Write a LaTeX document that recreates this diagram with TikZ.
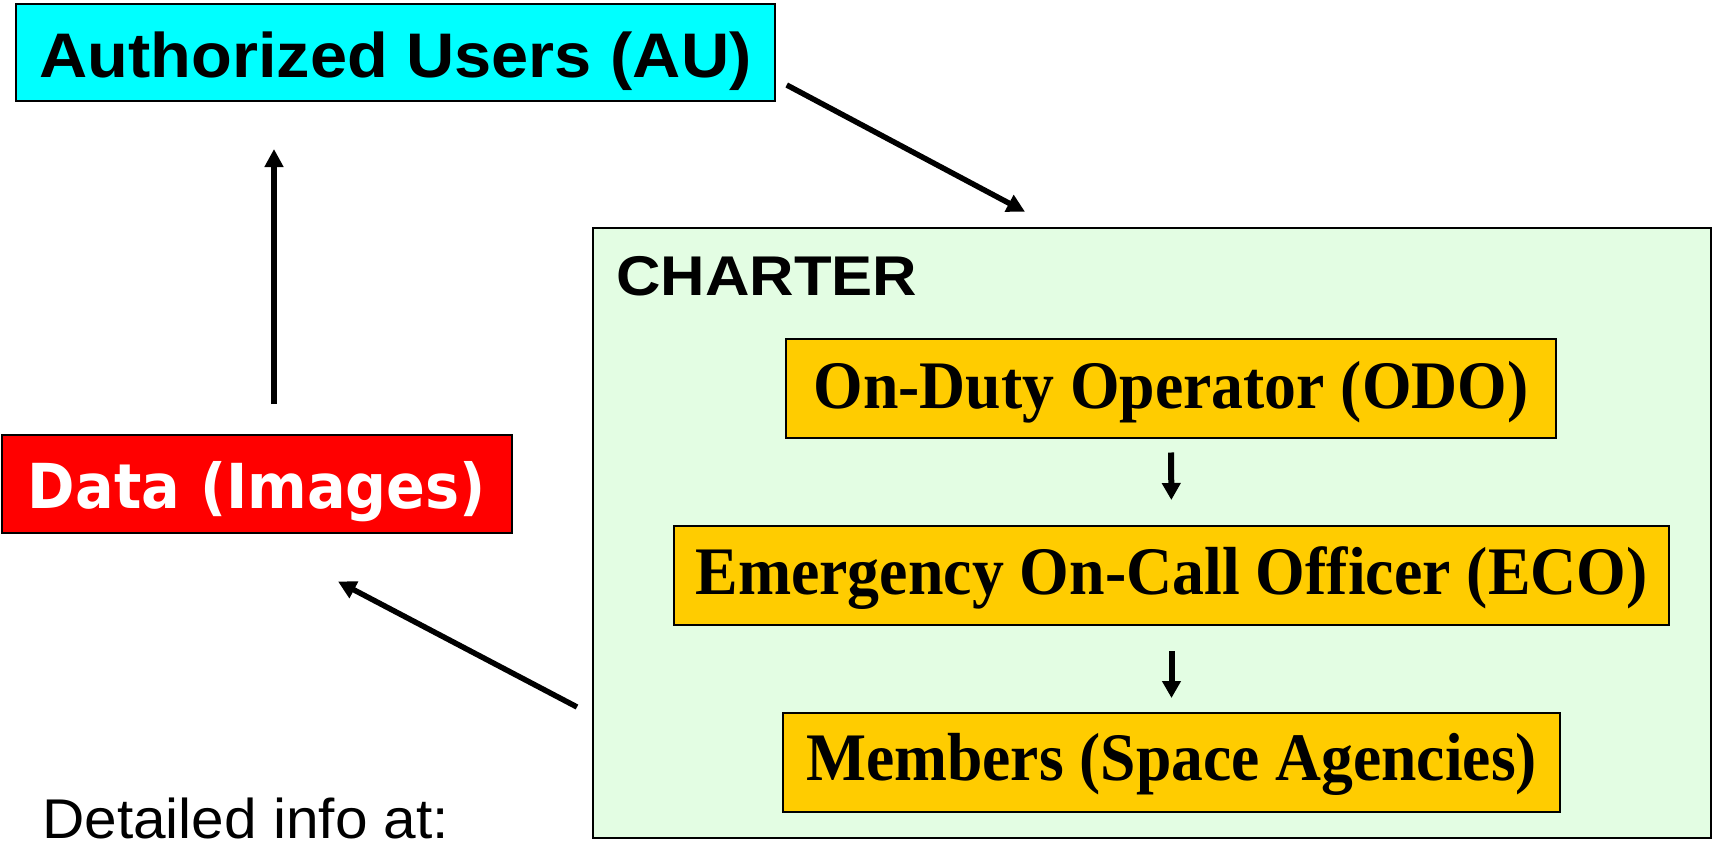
\documentclass[tikz,border=0pt]{standalone}
\usepackage{fontspec}
\usepackage{graphicx}
\usetikzlibrary{arrows.meta}
\setmainfont{Liberation Serif}
\newfontfamily\lsans{Liberation Sans}
\newfontfamily\dsans{DejaVu Sans}
\newcommand\fitw[2]{\resizebox{#1}{\height}{#2}}
\definecolor{aucyan}{RGB}{0,255,255}
\definecolor{datared}{RGB}{255,0,0}
\definecolor{charterfill}{RGB}{227,253,227}
\definecolor{roleyellow}{RGB}{255,204,0}
\tikzset{
  box/.style={draw=black, line width=2pt, inner sep=0pt, rectangle},
  rolebox/.style={box, fill=roleyellow, minimum height=99pt},
  bigarr/.style={line width=5.5pt, -{Triangle[length=18pt,width=18pt]}},
  smallarr/.style={line width=6pt, -{Triangle[length=17pt,width=18pt]}},
}
\begin{document}
\begin{tikzpicture}[x=1pt,y=1pt]
\useasboundingbox (0,0) rectangle (1717,-843);
% Authorized users
\node[box, fill=aucyan, minimum width=759pt, minimum height=97pt, text height=50pt, text depth=0pt] (AU) at (395.5,-52.5)
  {\fitw{712pt}{\lsans\bfseries\fontsize{63pt}{63pt}\selectfont Authorized Users (AU)}};
% Data
\node[box, fill=datared, minimum width=510pt, minimum height=98pt, text height=48pt, text depth=0pt, text=white] (Data) at (257,-484)
  {\fitw{458pt}{\dsans\bfseries\fontsize{62pt}{62pt}\selectfont Data (Images)}};
% Charter
\node[box, fill=charterfill, minimum width=1118pt, minimum height=610pt] (Charter) at (1152,-533) {};
\node[anchor=base west, inner sep=0pt] (CharterTitle) at (616,-295.5)
  {\fitw{301pt}{\lsans\bfseries\fontsize{56pt}{56pt}\selectfont CHARTER}};
\node[rolebox, minimum width=770pt, text height=39pt, text depth=0pt] (ODO) at (1171,-388.5)
  {\fitw{715pt}{\bfseries\fontsize{68pt}{68pt}\selectfont On-Duty Operator (ODO)}};
\node[rolebox, minimum width=995pt, text height=37pt, text depth=0pt] (ECO) at (1171.5,-575.5)
  {\fitw{952pt}{\bfseries\fontsize{68pt}{68pt}\selectfont Emergency On-Call Officer (ECO)}};
\node[rolebox, minimum width=777pt, text height=37pt, text depth=0pt] (Members) at (1171.5,-762)
  {\fitw{731pt}{\bfseries\fontsize{68pt}{68pt}\selectfont Members (Space Agencies)}};
% info text
\node[anchor=base west, inner sep=0pt] (Info) at (42,-838)
  {\fitw{407pt}{\lsans\fontsize{56pt}{56pt}\selectfont Detailed info at:}};
% connectors
\coordinate (auOut) at (786.7,-85);
\coordinate (charterIn) at (1025,-211.7);
\coordinate (charterOut) at (577,-707);
\coordinate (dataIn) at (338,-581.5);
\coordinate (dataOut) at (274,-404);
\coordinate (auIn) at (274,-149);
\draw[bigarr] (auOut) -- (charterIn);
\draw[bigarr] (charterOut) -- (dataIn);
\draw[bigarr] (dataOut) -- (auIn);
\draw[smallarr, shorten <=13.5pt, shorten >=25pt] (ODO.south) -- (ECO.north);
\draw[smallarr, shorten <=25pt, shorten >=13.5pt] (ECO.south) -- (Members.north);
\end{tikzpicture}
\end{document}
